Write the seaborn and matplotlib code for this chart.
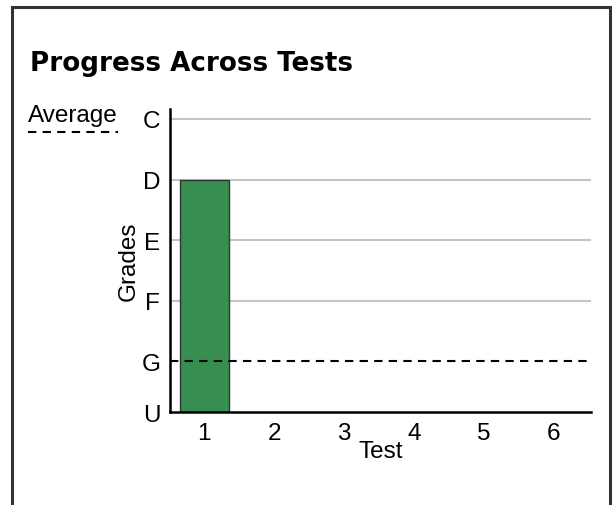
import matplotlib
matplotlib.use("Agg")

import matplotlib.pyplot as plt
import pandas as pd
import seaborn as sns
from matplotlib.lines import Line2D
from matplotlib.patches import Rectangle

# Data
tests = ["1", "2", "3", "4", "5", "6"]
grade_scores = [4, 0, 0, 0, 0, 0]  # D for test 1, others not taken
grade_labels = ["U", "G", "F", "E", "D", "C"]
grade_ticks = [0.16, 1, 2, 3, 4, 5]  # U sits on the axis floor
average_score = 1  # G

sns.set_style("white")
plt.rcParams["font.family"] = ["Liberation Sans", "DejaVu Sans"]
plt.rcParams["text.color"] = "black"
plt.rcParams["axes.labelcolor"] = "black"
plt.rcParams["xtick.color"] = "black"
plt.rcParams["ytick.color"] = "black"

df = pd.DataFrame({"Test": tests, "Score": grade_scores})

fig = plt.figure(figsize=(6.13, 5.06), dpi=100)
ax = fig.add_axes([170 / 613, 1 - 413.3 / 506, 421 / 613, 303.3 / 506])

# grid lines behind bars
for v in grade_ticks[2:]:
    ax.axhline(v, color="#c4c4c4", linewidth=1.5, zorder=0)

sns.barplot(data=df, x="Test", y="Score", order=tests, color="#368f50",
            saturation=1, width=0.7, edgecolor="#333333", linewidth=1,
            ax=ax, zorder=2)

ax.axhline(average_score, color="black", linestyle=(0, (4, 3)),
           linewidth=1.5, zorder=3)

ax.set_ylim(0.16, 5.165)
ax.set_xlim(-0.49, 5.53)
ax.set_yticks(grade_ticks)
ax.set_yticklabels(grade_labels)
ax.tick_params(axis="both", length=0, labelsize=17.5, pad=7)

for side in ["top", "right"]:
    ax.spines[side].set_visible(False)
for side in ["left", "bottom"]:
    ax.spines[side].set_color("black")
    ax.spines[side].set_linewidth(1.8)

ax.set_xlabel("Test", fontsize=17.5, labelpad=-3)
ax.set_ylabel("Grades", fontsize=17.5, labelpad=1)

fig.text(30 / 613, 1 - 64 / 506, "Progress Across Tests", fontsize=18.8,
         fontweight="bold", family="DejaVu Sans", va="center", ha="left")

# legend entry
fig.text(28 / 613, 1 - 116 / 506, "Average", fontsize=17.5, va="center", ha="left")
fig.add_artist(Line2D([28 / 613, 118 / 613], [1 - 133 / 506, 1 - 133 / 506],
                      transform=fig.transFigure, color="black",
                      linestyle=(0, (4, 3)), linewidth=1.5))

# outer frame
fig.add_artist(Rectangle((12 / 613, -0.05), 598 / 613, 1.05 - 8 / 506,
                         transform=fig.transFigure, fill=False,
                         edgecolor="#333333", linewidth=2.2))

fig.savefig("out.png", dpi=100)
